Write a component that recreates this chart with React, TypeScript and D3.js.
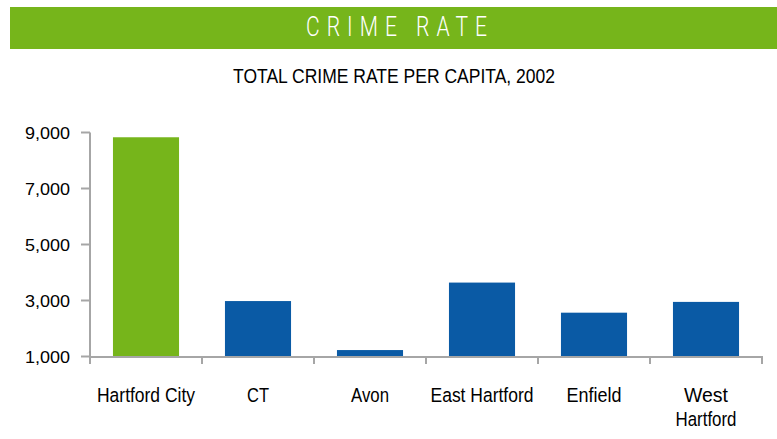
import React from "react";
import * as d3 from "d3";

const categories = ["Hartford City", "CT", "Avon", "East Hartford", "Enfield", "West Hartford"];
const values = [8830, 2980, 1230, 3640, 2565, 2950];
const yTicks = [1000, 3000, 5000, 7000, 9000];
const labelLines = [["Hartford City"], ["CT"], ["Avon"], ["East Hartford"], ["Enfield"], ["West", "Hartford"]];
const labelWidths = [98, 22, 38, 103, 55, 44];

const W = 777;
const H = 439;
const GREEN = "#76B51B";
const BLUE = "#0A5AA5";
const AXIS = "#A6A6A6";
const FONT = "'Liberation Sans Narrow', 'Arial Narrow', 'Liberation Sans', Arial, sans-serif";

export default function App() {
  const x = d3.scaleBand<string>().domain(categories).range([90, 762]).paddingInner(0.41).paddingOuter(0.205);
  const y = d3.scaleLinear().domain([1000, 9000]).range([356.5, 132.5]);
  const fmt = d3.format(",");
  const ticksX = categories.map((c) => (x(c) as number) - (x.step() * x.paddingInner()) / 2);
  ticksX.push(762);
  return (
    <svg width={W} height={H} style={{ position: "absolute", left: 0, top: 0 }}>
      <rect x={10} y={7} width={767} height={42} fill={GREEN} />
      <g transform="translate(396.5,36) scale(0.78,1)">
        <text x={0} y={0} textAnchor="middle" fill="#fff" fontFamily="Roboto, 'Open Sans', sans-serif" fontWeight={300} fontSize={27} textLength={232} lengthAdjust="spacing">
          CRIME RATE
        </text>
      </g>
      <text x={394} y={83} textAnchor="middle" fill="#000" fontFamily={FONT} fontSize={20} textLength={322} lengthAdjust="spacingAndGlyphs">
        TOTAL CRIME RATE PER CAPITA, 2002
      </text>
      {categories.map((c, i) => (
        <rect key={c} x={x(c)} y={y(values[i])} width={x.bandwidth()} height={y(1000) - y(values[i])} fill={i === 0 ? GREEN : BLUE} />
      ))}
      <line x1={90} x2={90} y1={132.5} y2={357} stroke={AXIS} strokeWidth={2} />
      <line x1={89} x2={763} y1={357} y2={357} stroke={AXIS} strokeWidth={2} />
      {yTicks.map((t) => (
        <g key={t}>
          <line x1={81} x2={90} y1={y(t)} y2={y(t)} stroke={AXIS} strokeWidth={2} />
          <text x={70} y={y(t) + 6} textAnchor="end" fontFamily={FONT} fontSize={17} fill="#000" textLength={45} lengthAdjust="spacingAndGlyphs">
            {fmt(t)}
          </text>
        </g>
      ))}
      {ticksX.map((tx, i) => (
        <line key={i} x1={tx} x2={tx} y1={357} y2={364} stroke={AXIS} strokeWidth={2} />
      ))}
      {categories.map((c, i) => {
        const cx = (x(c) as number) + x.bandwidth() / 2;
        return labelLines[i].map((ln, j) => (
          <text key={c + j} x={cx} y={402 + j * 23.5} textAnchor="middle" fontFamily={FONT} fontSize={20.5} fill="#000"
            textLength={j === 0 ? labelWidths[i] : 61} lengthAdjust="spacingAndGlyphs">
            {ln}
          </text>
        ));
      })}
    </svg>
  );
}
